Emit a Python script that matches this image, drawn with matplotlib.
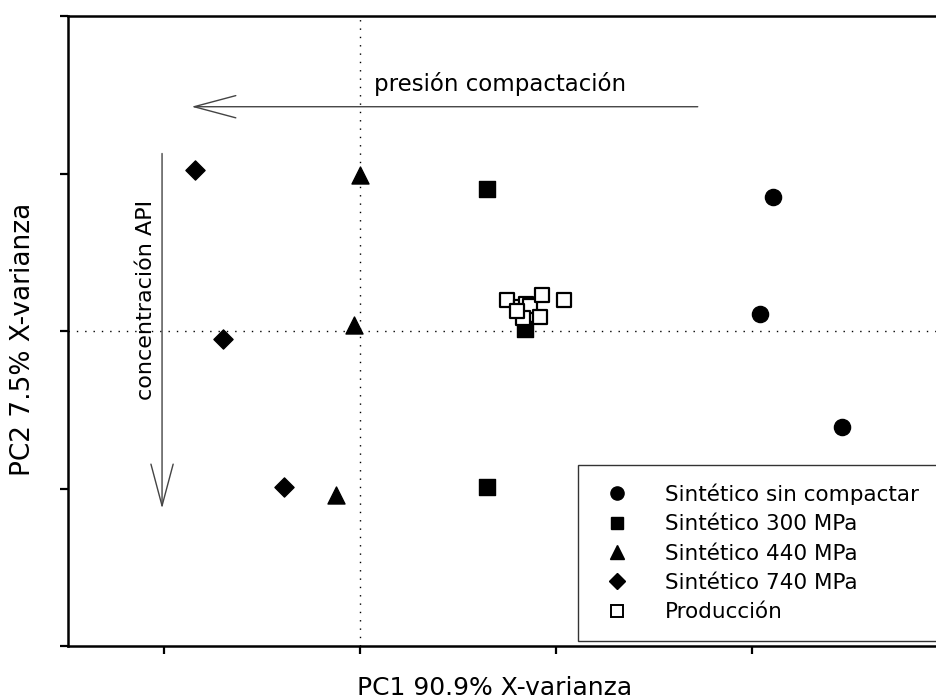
import matplotlib
matplotlib.use("Agg")
import matplotlib.pyplot as plt
from matplotlib.lines import Line2D

# PCA scores (PC1, PC2)
sin_compactar_x = [2.11, 2.04, 2.46]
sin_compactar_y = [0.85, 0.11, -0.61]
mpa300_x = [0.65, 0.84, 0.65]
mpa300_y = [0.90, 0.01, -0.99]
mpa440_x = [0.00, -0.03, -0.12]
mpa440_y = [0.99, 0.04, -1.04]
mpa740_x = [-0.84, -0.70, -0.39]
mpa740_y = [1.02, -0.05, -0.99]
produccion_x = [0.75, 0.82, 0.85, 0.87, 0.93, 1.04, 0.92, 0.83, 0.80]
produccion_y = [0.20, 0.15, 0.17, 0.16, 0.23, 0.20, 0.09, 0.08, 0.13]

labels = ["Sintético sin compactar", "Sintético 300 MPa", "Sintético 440 MPa",
          "Sintético 740 MPa", "Producción"]

plt.rcParams['font.family'] = ['DejaVu Sans']

fig = plt.figure(figsize=(9.36, 7.0), dpi=100)
ax = fig.add_axes([68 / 936, 54 / 700, 868 / 936, 630 / 700])

ax.set_xlim(-1.49, 2.94)
ax.set_ylim(-2.0, 1.99)
ax.set_xticks([-1, 0, 1, 2])
ax.set_yticks([-2, -1, 0, 1, 2])
ax.set_xticklabels([])
ax.set_yticklabels([])
ax.tick_params(direction='out', length=6, width=1.6)
for side in ['left', 'bottom', 'top']:
    ax.spines[side].set_linewidth(1.8)
ax.spines['right'].set_visible(False)

# dotted origin lines
ax.axvline(0, color='black', lw=1, ls=(0, (1, 5)), zorder=1)
ax.axhline(0, color='black', lw=1, ls=(0, (1, 5)), zorder=1)

ax.scatter(sin_compactar_x, sin_compactar_y, marker='o', s=135, c='black', zorder=3)
ax.scatter(mpa300_x, mpa300_y, marker='s', s=120, c='black', zorder=3)
ax.scatter(mpa440_x, mpa440_y, marker='^', s=150, c='black', zorder=3)
ax.scatter(mpa740_x, mpa740_y, marker='D', s=95, c='black', zorder=3)
ax.scatter(produccion_x, produccion_y, marker='s', s=100, facecolors='white',
           edgecolors='black', linewidths=1.6, zorder=4)

# annotation arrows
arrow_style = dict(arrowstyle='->,head_length=3,head_width=0.8', mutation_scale=10,
                   color='#444444', lw=1, shrinkA=0, shrinkB=0)
ax.annotate('', xy=(-0.86, 1.424), xytext=(1.724, 1.424), arrowprops=arrow_style)
ax.annotate('', xy=(-1.01, -1.127), xytext=(-1.01, 1.127), arrowprops=arrow_style)
ax.text(0.714, 1.57, 'presión compactación', fontsize=16.5, ha='center', va='center')
ax.text(-1.092, 0.196, 'concentración API', fontsize=16, ha='center', va='center',
        rotation=90)

ax.set_xlabel('PC1 90.9% X-varianza', fontsize=18, va='top')
ax.xaxis.set_label_coords((495 - 68) / 868, -0.047)
ax.set_ylabel('PC2 7.5% X-varianza', fontsize=19, va='bottom')
ax.yaxis.set_label_coords(-0.0365, 0.486)

handles = [
    Line2D([], [], ls='none', marker='o', ms=9.5, color='black'),
    Line2D([], [], ls='none', marker='s', ms=8.5, color='black'),
    Line2D([], [], ls='none', marker='^', ms=9.5, color='black'),
    Line2D([], [], ls='none', marker='D', ms=8, color='black'),
    Line2D([], [], ls='none', marker='s', ms=8, mfc='white', mec='black', mew=1.4),
]
leg = ax.legend(handles, labels, loc='lower left',
                bbox_to_anchor=(578 / 936, 59 / 700), bbox_transform=fig.transFigure,
                borderaxespad=0, fontsize=15.5, frameon=True, fancybox=False,
                edgecolor='black', borderpad=0.86, handlelength=1.9,
                handletextpad=1.28, labelspacing=0.44)
leg.get_frame().set_linewidth(1.0)

fig.savefig('out.png', dpi=100)
